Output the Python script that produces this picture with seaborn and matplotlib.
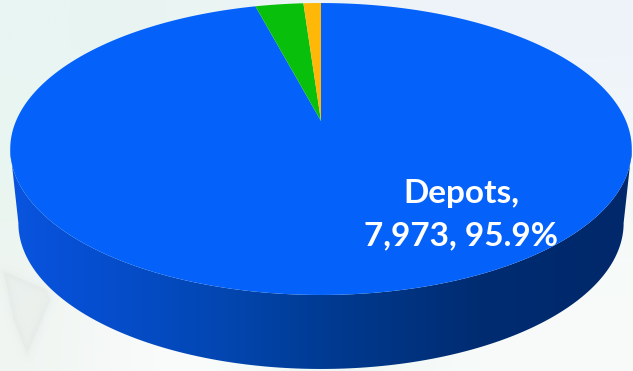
import numpy as np
import matplotlib
matplotlib.use("Agg")
import matplotlib.pyplot as plt
import seaborn as sns
from matplotlib.path import Path
from matplotlib.patches import PathPatch, Polygon
from matplotlib.transforms import Transform
from matplotlib.colors import LinearSegmentedColormap, to_rgb

# Facility counts; only the largest group carries a label
categories = ["Depots", "Other A", "Other B"]
counts = [7973, 250, 91]
shares = ["95.9%", "3.0%", "1.1%"]
slice_colors = ["#0462FA", "#08C00C", "#FFB808"]

sns.set_theme(style="white")
plt.rcParams["font.family"] = ["Lato", "DejaVu Sans"]

WIDTH, HEIGHT = 633, 371
TILT = 0.1918          # strength of the perspective foreshortening
TOP_CENTER = (321, 121)
TOP_RADII = (305, 140.6)
BASE_CENTER = (321, 195)
BASE_RADII = (297, 140.6)

# Pale wash behind the pie, coarse grid smoothed when drawn
wash_colors = [
    ["#E8F5F2", "#EAF5F3", "#EEF4F6", "#EEF3FA", "#EEF3FB"],
    ["#E8F5F2", "#EAF5F3", "#EEF4F6", "#F0F5F9", "#F1F6F9"],
    ["#E9F5F0", "#EEF6F3", "#F2F7F6", "#F3F8F8", "#F4F9F8"],
    ["#EEF5F1", "#FFFFFF", "#FBFDFC", "#F8FBFA", "#F6FAF9"],
    ["#F0F5F2", "#FFFFFF", "#E8F5F1", "#F8FBFA", "#F8FBFA"],
]


class TiltedDisc(Transform):
    """Projects the unit disc of a pie onto a receding plane, in pixel space."""
    input_dims = output_dims = 2

    def __init__(self, center, radii, tilt):
        super().__init__()
        self.center, self.radii, self.tilt = center, radii, tilt

    def transform_non_affine(self, values):
        values = np.asarray(values, float)
        w = 1 + self.tilt * values[:, 1]
        x = self.center[0] + self.radii[0] * values[:, 0] / w
        y = self.center[1] - self.radii[1] * values[:, 1] / w
        return np.column_stack([x, y])

    def transform_path_non_affine(self, path):
        # Flatten the Bezier rim at high resolution before projecting it
        scale = 2000.0
        enlarged = Path(path.vertices * scale, path.codes)
        polygon = enlarged.to_polygons(closed_only=True)[0] / scale
        return Path(self.transform_non_affine(polygon), closed=True)


fig = plt.figure(figsize=(WIDTH / 100, HEIGHT / 100), dpi=100, facecolor="white")
ax = fig.add_axes([0, 0, 1, 1])

wash = np.array([[to_rgb(c) for c in row] for row in wash_colors])
ax.imshow(wash, extent=(0, WIDTH, HEIGHT, 0), aspect="auto",
          interpolation="bicubic", zorder=0)

# Faint chevron in the lower-left corner, softened with stacked strokes
chevron = [(4, 272), (46, 290), (50, 300), (27, 353), (14, 320)]
for stroke, alpha in [(12, 0.06), (6, 0.10), (2, 0.14)]:
    ax.add_patch(Polygon(chevron, closed=True, facecolor="#DFE6E3", edgecolor="#DFE6E3",
                         linewidth=stroke, alpha=alpha, joinstyle="round", zorder=0.5))

top = TiltedDisc(TOP_CENTER, TOP_RADII, TILT)
base = TiltedDisc(BASE_CENTER, BASE_RADII, TILT)

# Side wall: lower arcs of the top rim and the base rim joined at their widest points
widest = np.arcsin(TILT)
t = np.linspace(np.pi + widest, 2 * np.pi - widest, 400)
arc = np.column_stack([np.cos(t), np.sin(t)])
wall_outline = np.vstack([top.transform_non_affine(arc),
                          base.transform_non_affine(arc)[::-1]])
wall = PathPatch(Path(np.vstack([wall_outline, wall_outline[:1]]), closed=True),
                 transform=ax.transData, facecolor="none", edgecolor="none")
ax.add_patch(wall)
wall_cmap = LinearSegmentedColormap.from_list(
    "wall", [(0, "#0A55E0"), (0.12, "#064FD2"), (0.35, "#0346B0"),
             (0.52, "#003A90"), (0.75, "#002C72"), (1, "#00286A")])
ramp = ax.imshow(np.linspace(0, 1, 512)[None, :], cmap=wall_cmap, aspect="auto",
                 extent=(8, 634, 372, 140), zorder=1)
ramp.set_clip_path(wall)

# Top face drawn from the counts
wedges, _ = ax.pie(counts, colors=slice_colors, startangle=90, counterclock=False,
                   wedgeprops={"linewidth": 0})
for wedge in wedges:
    wedge.set_transform(top + ax.transData)
    wedge.set_zorder(2)

ax.set_aspect("auto")
ax.set_xlim(0, WIDTH)
ax.set_ylim(HEIGHT, 0)
ax.axis("off")

ax.text(461, 194, f"{categories[0]},", color="white", fontsize=24, fontweight="bold",
        ha="center", va="center", zorder=3)
ax.text(461, 236, f"{counts[0]:,}, {shares[0]}", color="white", fontsize=24,
        fontweight="bold", ha="center", va="center", zorder=3)

fig.savefig("out.png", dpi=100, facecolor="white")
